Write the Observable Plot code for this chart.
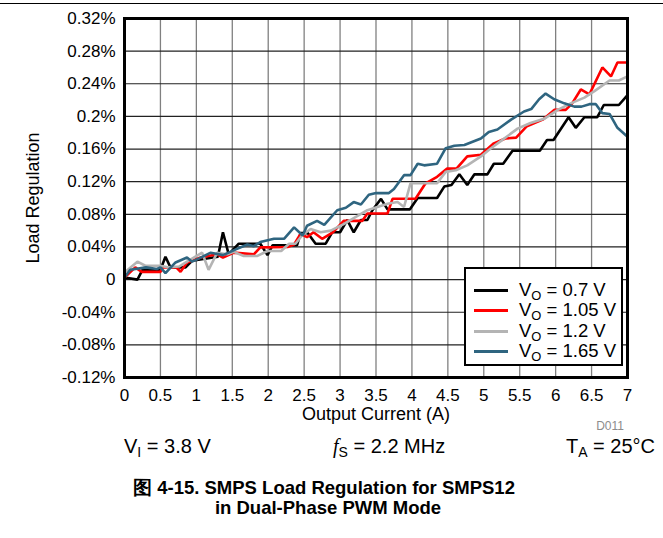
<!DOCTYPE html>
<html><head><meta charset="utf-8">
<script src="https://cdn.jsdelivr.net/npm/d3@7"></script>
<script src="https://cdn.jsdelivr.net/npm/@observablehq/plot@0.6"></script>
<style>
body{margin:0;background:#fff;font-family:"Liberation Sans",Arial,sans-serif;color:#000}
#wrap{position:relative;width:663px;height:538px;overflow:hidden}
#topline{position:absolute;left:0;top:3px;width:663px;height:0;border-top:1px solid #000}
#chart{position:absolute;left:0;top:0}
#legend{position:absolute;left:464px;top:267px;width:159px;height:99px;border:2px solid #000;background:#fff;box-sizing:border-box}
.row{position:absolute;left:0;height:20px;font-size:18.5px;line-height:20px;white-space:nowrap}
.row .sw{position:absolute;left:8px;top:9px;width:34px;height:0;border-top:3px solid #000}
.row .tx{position:absolute;left:53px;top:0}
sub{font-size:70%;vertical-align:-0.3em;line-height:0}
.cond{position:absolute;top:434px;font-size:20px;line-height:24px;white-space:nowrap}
#d011{position:absolute;top:419px;right:39px;font-size:12px;color:#8c8c8c}
.cap{position:absolute;left:0;width:648px;text-align:center;font-weight:bold;font-size:18.5px;line-height:20px;white-space:nowrap}
</style></head>
<body><div id="wrap"><div id="topline"></div><div id="chart"></div>
<div id="legend"></div>
<div id="d011">D011</div>
<div class="cond" style="left:124px">V<sub>I</sub> = 3.8 V</div>
<div class="cond" style="left:333px"><i style="font-family:'Liberation Serif',serif">f</i><sub>S</sub> = 2.2 MHz</div>
<div class="cond" style="right:8px">T<sub>A</sub> = 25°C</div>
<div class="cap" style="top:478px">图 4-15. SMPS Load Regulation for SMPS12</div>
<div class="cap" style="top:498px;left:4px">in Dual-Phase PWM Mode</div>
</div>
<script>
// Output current (A) and load regulation (%) per series
const seriesNames = ["VO = 0.7 V", "VO = 1.05 V", "VO = 1.2 V", "VO = 1.65 V"];
const seriesColors = ["#000000", "#ff0000", "#b4b4b4", "#2f6580"];
const legendLabels = ["V<sub>O</sub> = 0.7 V", "V<sub>O</sub> = 1.05 V", "V<sub>O</sub> = 1.2 V", "V<sub>O</sub> = 1.65 V"];

const x07 = [0,0.18,0.25,0.5,0.57,0.64,0.85,0.94,1.3,1.37,1.45,1.59,1.89,1.99,2.06,2.4,2.45,2.55,2.66,2.8,2.89,3.0,3.1,3.19,3.29,3.38,3.45,3.57,3.66,3.97,4.08,4.35,4.45,4.55,4.66,4.77,4.87,5.05,5.14,5.27,5.4,5.78,5.88,5.97,6.18,6.28,6.4,6.58,6.67,6.88,7.0];
const y07 = [0.0025,0,0.012,0.012,0.028,0.015,0.015,0.023,0.028,0.058,0.031,0.044,0.044,0.030,0.042,0.042,0.057,0.057,0.044,0.044,0.058,0.058,0.073,0.058,0.073,0.073,0.085,0.099,0.086,0.086,0.1,0.1,0.114,0.116,0.129,0.116,0.129,0.129,0.142,0.142,0.158,0.158,0.171,0.171,0.199,0.186,0.199,0.199,0.214,0.214,0.226];

const x105 = [0,0.15,0.24,0.5,0.53,0.72,0.78,0.87,1.06,1.29,1.37,1.52,1.8,1.89,2.27,2.36,2.45,2.54,2.63,2.75,2.9,3.05,3.31,3.38,3.66,3.73,4.05,4.19,4.35,4.49,4.62,4.77,4.96,5.14,5.3,5.45,5.6,5.82,5.98,6.14,6.23,6.35,6.47,6.65,6.77,6.86,7.0];
const y105 = [0.0025,0.015,0.0095,0.0095,0.015,0.015,0.0095,0.021,0.027,0.031,0.027,0.033,0.031,0.0395,0.04,0.043,0.056,0.052,0.058,0.05,0.058,0.072,0.072,0.081,0.081,0.099,0.099,0.118,0.126,0.136,0.136,0.151,0.153,0.167,0.173,0.174,0.188,0.196,0.208,0.208,0.216,0.233,0.227,0.26,0.249,0.266,0.266];

const x12 = [0,0.18,0.29,0.5,0.6,0.76,0.87,1.08,1.17,1.29,1.43,1.52,1.66,1.85,1.99,2.18,2.29,2.38,2.47,2.59,2.73,2.87,3.05,3.22,3.38,3.52,3.66,3.8,3.89,3.98,4.35,4.47,4.61,4.77,4.96,5.1,5.24,5.47,5.65,5.84,6.03,6.21,6.4,6.54,6.75,6.88,7.0];
const y12 = [0.0086,0.022,0.017,0.017,0.015,0.016,0.022,0.033,0.012,0.033,0.031,0.034,0.029,0.029,0.035,0.035,0.044,0.044,0.054,0.062,0.058,0.06,0.068,0.077,0.085,0.089,0.093,0.095,0.089,0.118,0.118,0.132,0.134,0.140,0.151,0.161,0.17,0.185,0.192,0.197,0.208,0.216,0.223,0.231,0.244,0.244,0.249];

const x165 = [0,0.08,0.3,0.45,0.5,0.57,0.71,0.87,0.94,1.04,1.2,1.37,1.55,1.71,1.8,1.89,2.08,2.22,2.36,2.48,2.54,2.68,2.78,2.96,3.08,3.19,3.29,3.4,3.5,3.68,3.75,3.89,3.98,4.08,4.17,4.35,4.47,4.59,4.73,4.96,5.07,5.19,5.38,5.56,5.66,5.77,5.86,5.98,6.12,6.26,6.36,6.47,6.56,6.65,6.75,6.86,7.0];
const y165 = [0.0025,0.012,0.015,0.013,0.015,0.008,0.021,0.027,0.022,0.026,0.033,0.030,0.037,0.043,0.041,0.046,0.05,0.05,0.064,0.054,0.066,0.072,0.067,0.085,0.088,0.095,0.092,0.104,0.106,0.106,0.111,0.128,0.128,0.142,0.140,0.142,0.161,0.164,0.165,0.173,0.181,0.184,0.196,0.206,0.209,0.221,0.228,0.221,0.216,0.212,0.212,0.215,0.215,0.204,0.203,0.186,0.175];

const xTicks = [0,0.5,1,1.5,2,2.5,3,3.5,4,4.5,5,5.5,6,6.5,7];
const xTickLabels = ["0","0.5","1","1.5","2","2.5","3","3.5","4","4.5","5","5.5","6","6.5","7"];
const yTicks = [-0.12,-0.08,-0.04,0,0.04,0.08,0.12,0.16,0.2,0.24,0.28,0.32];
const yTickLabels = ["-0.12%","-0.08%","-0.04%","0","0.04%","0.08%","0.12%","0.16%","0.2%","0.24%","0.28%","0.32%"];

const xs = [x07, x105, x12, x165];
const ys = [y07, y105, y12, y165];
const rows = [];
seriesNames.forEach((s, k) => xs[k].forEach((x, i) => rows.push({series: s, x, y: ys[k][i]})));

const chart = Plot.plot({
  width: 663, height: 430,
  marginLeft: 124, marginRight: 36, marginTop: 18, marginBottom: 53,
  style: {fontFamily: '"Liberation Sans", Arial, sans-serif', fontSize: "17px", color: "#000", background: "transparent", overflow: "visible"},
  x: {domain: [0, 7]},
  y: {domain: [-0.12, 0.32]},
  color: {domain: seriesNames, range: seriesColors},
  marks: [
    Plot.gridX(xTicks, {stroke: "#808080", strokeOpacity: 1, strokeWidth: 1.3}),
    Plot.gridY(yTicks, {stroke: "#222", strokeOpacity: 1, strokeWidth: 1.2}),
    Plot.line(rows, {x: "x", y: "y", z: "series", stroke: "series", strokeWidth: 2.6, strokeLinejoin: "miter"}),
    Plot.frame({stroke: "#000", strokeWidth: 3}),
    Plot.axisX(xTicks, {tickSize: 0, tickPadding: 11, fontSize: 17,
      tickFormat: d => xTickLabels[xTicks.indexOf(d)], label: null}),
    Plot.axisX({label: "Output Current (A)", labelAnchor: "center", labelArrow: "none", labelOffset: 42, fontSize: 18, ticks: [], tickSize: 0}),
    Plot.axisY(yTicks, {tickSize: 0, tickPadding: 9, fontSize: 17,
      tickFormat: d => yTickLabels[yTicks.indexOf(d)], label: null}),
    Plot.axisY({label: "Load Regulation", labelAnchor: "center", labelArrow: "none", labelOffset: 98, fontSize: 18, ticks: [], tickSize: 0})
  ]
});
document.getElementById("chart").appendChild(chart);

const leg = document.getElementById("legend");
seriesNames.forEach((s, i) => {
  const r = document.createElement("div");
  r.className = "row";
  r.style.top = (11 + i * 20.4) + "px";
  r.innerHTML = `<span class="sw" style="border-top-color:${seriesColors[i]}"></span><span class="tx">${legendLabels[i]}</span>`;
  leg.appendChild(r);
});
</script></body></html>
